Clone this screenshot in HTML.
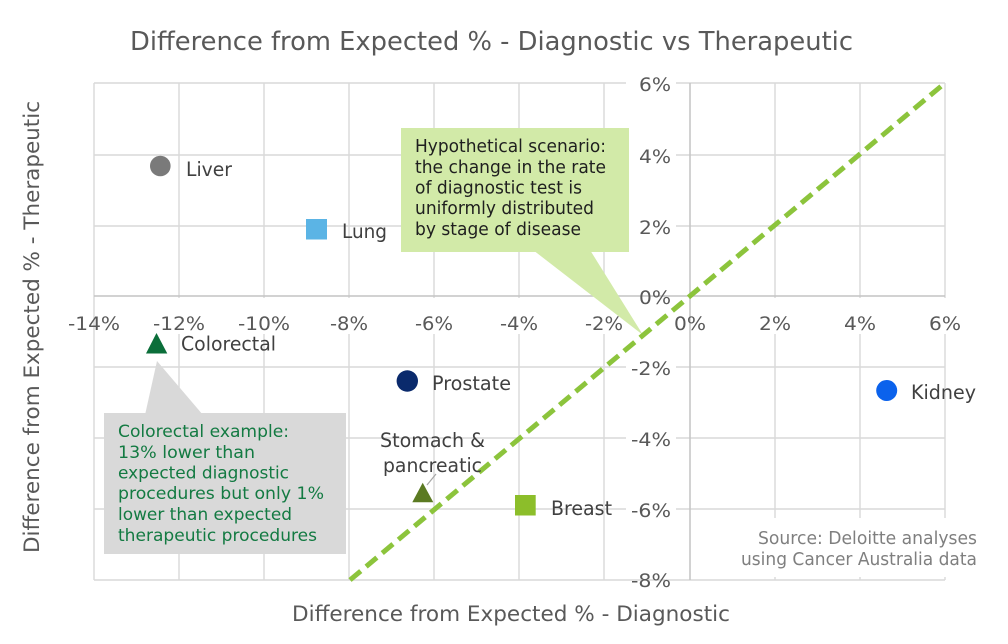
<!DOCTYPE html>
<html><head><meta charset="utf-8"><style>
html,body{margin:0;padding:0;background:#fff;}
svg{display:block;}
text{font-family:"DejaVu Sans","Liberation Sans",sans-serif;}
</style></head><body>
<svg width="1008" height="644" viewBox="0 0 1008 644" xmlns="http://www.w3.org/2000/svg">
<rect x="0" y="0" width="1008" height="644" fill="#fff"/>
<!-- title -->
<text x="130" y="50" font-size="26" fill="#595959" textLength="723" lengthAdjust="spacingAndGlyphs">Difference from Expected % - Diagnostic vs Therapeutic</text>
<!-- gridlines -->
<g stroke="#d9d9d9" stroke-width="1.4" fill="none">
<line x1="94" y1="83" x2="945" y2="83"/>
<line x1="94" y1="155" x2="945" y2="155"/>
<line x1="94" y1="226" x2="945" y2="226"/>
<line x1="94" y1="367" x2="945" y2="367"/>
<line x1="94" y1="438" x2="945" y2="438"/>
<line x1="94" y1="509" x2="945" y2="509"/>
<line x1="94" y1="580" x2="945" y2="580"/>
<line x1="179" y1="83" x2="179" y2="580"/>
<line x1="264" y1="83" x2="264" y2="580"/>
<line x1="349" y1="83" x2="349" y2="580"/>
<line x1="434" y1="83" x2="434" y2="580"/>
<line x1="519" y1="83" x2="519" y2="580"/>
<line x1="604" y1="83" x2="604" y2="580"/>
<line x1="775" y1="83" x2="775" y2="580"/>
<line x1="860" y1="83" x2="860" y2="580"/>
<line x1="945" y1="83" x2="945" y2="580"/>
</g>
<!-- white bands behind labels -->
<rect x="96" y="298" width="856" height="36" fill="#fff"/>
<g fill="#fff">
<rect x="626" y="74" width="50" height="18"/>
<rect x="626" y="146" width="50" height="18"/>
<rect x="626" y="217" width="50" height="18"/>
<rect x="626" y="358" width="50" height="18"/>
<rect x="626" y="429" width="50" height="18"/>
<rect x="626" y="500" width="50" height="18"/>
<rect x="626" y="571" width="50" height="8"/>
</g>
<rect x="700" y="518" width="285" height="59" fill="#fff"/>
<!-- left border & zero axes -->
<line x1="94" y1="83" x2="94" y2="580" stroke="#d9d9d9" stroke-width="1.4"/>
<line x1="94" y1="296" x2="945" y2="296" stroke="#c4c4c4" stroke-width="1.5"/>
<line x1="690" y1="83" x2="690" y2="580" stroke="#c4c4c4" stroke-width="1.5"/>
<!-- x tick labels -->
<g font-size="19" fill="#595959" text-anchor="middle">
<text x="94" y="330" textLength="52" lengthAdjust="spacingAndGlyphs">-14%</text>
<text x="179" y="330" textLength="52" lengthAdjust="spacingAndGlyphs">-12%</text>
<text x="264" y="330" textLength="52" lengthAdjust="spacingAndGlyphs">-10%</text>
<text x="349" y="330" textLength="38" lengthAdjust="spacingAndGlyphs">-8%</text>
<text x="434" y="330" textLength="38" lengthAdjust="spacingAndGlyphs">-6%</text>
<text x="519" y="330" textLength="38" lengthAdjust="spacingAndGlyphs">-4%</text>
<text x="604" y="330" textLength="38" lengthAdjust="spacingAndGlyphs">-2%</text>
<text x="690" y="330" textLength="32" lengthAdjust="spacingAndGlyphs">0%</text>
<text x="775" y="330" textLength="32" lengthAdjust="spacingAndGlyphs">2%</text>
<text x="860" y="330" textLength="32" lengthAdjust="spacingAndGlyphs">4%</text>
<text x="945" y="330" textLength="32" lengthAdjust="spacingAndGlyphs">6%</text>
</g>
<!-- y tick labels -->
<g font-size="19" fill="#595959" text-anchor="end">
<text x="671" y="91" textLength="32" lengthAdjust="spacingAndGlyphs">6%</text>
<text x="671" y="163" textLength="32" lengthAdjust="spacingAndGlyphs">4%</text>
<text x="671" y="234" textLength="32" lengthAdjust="spacingAndGlyphs">2%</text>
<text x="671" y="304" textLength="32" lengthAdjust="spacingAndGlyphs">0%</text>
<text x="671" y="375" textLength="40" lengthAdjust="spacingAndGlyphs">-2%</text>
<text x="671" y="446" textLength="40" lengthAdjust="spacingAndGlyphs">-4%</text>
<text x="671" y="517" textLength="40" lengthAdjust="spacingAndGlyphs">-6%</text>
<text x="671" y="587" textLength="40" lengthAdjust="spacingAndGlyphs">-8%</text>
</g>
<!-- axis titles -->
<text x="292" y="621" font-size="21" fill="#595959" textLength="438" lengthAdjust="spacingAndGlyphs">Difference from Expected % - Diagnostic</text>
<text transform="translate(39,327) rotate(-90)" x="0" y="0" font-size="21" fill="#595959" text-anchor="middle" textLength="452" lengthAdjust="spacingAndGlyphs">Difference from Expected % - Therapeutic</text>
<!-- green callout -->
<polygon points="533,250 590,250 643,335" fill="#d2eaa8"/>
<rect x="401" y="128" width="228" height="124" fill="#d2eaa8"/>
<g font-size="17.5" fill="#1f1f1f">
<text x="415" y="152" textLength="191" lengthAdjust="spacingAndGlyphs">Hypothetical scenario:</text>
<text x="415" y="173" textLength="191" lengthAdjust="spacingAndGlyphs">the change in the rate</text>
<text x="415" y="193.5" textLength="167" lengthAdjust="spacingAndGlyphs">of diagnostic test is</text>
<text x="415" y="214" textLength="179" lengthAdjust="spacingAndGlyphs">uniformly distributed</text>
<text x="415" y="235" textLength="166" lengthAdjust="spacingAndGlyphs">by stage of disease</text>
</g>
<!-- gray callout -->
<polygon points="145,415 203,415 157,361" fill="#d9d9d9"/>
<rect x="104" y="413" width="242" height="141" fill="#d9d9d9"/>
<g font-size="17" fill="#137a42">
<text x="118" y="437" textLength="171" lengthAdjust="spacingAndGlyphs">Colorectal example:</text>
<text x="118" y="458" textLength="137" lengthAdjust="spacingAndGlyphs">13% lower than</text>
<text x="118" y="478.5" textLength="171" lengthAdjust="spacingAndGlyphs">expected diagnostic</text>
<text x="118" y="499" textLength="206" lengthAdjust="spacingAndGlyphs">procedures but only 1%</text>
<text x="118" y="520" textLength="174" lengthAdjust="spacingAndGlyphs">lower than expected</text>
<text x="118" y="541" textLength="199" lengthAdjust="spacingAndGlyphs">therapeutic procedures</text>
</g>
<!-- dashed diagonal -->
<line x1="350" y1="580" x2="945" y2="83" stroke="#8cc43c" stroke-width="5" stroke-dasharray="14 7"/>
<!-- markers -->
<circle cx="160.3" cy="166" r="10.3" fill="#7a7a7a"/>
<rect x="306" y="219" width="21" height="20.5" fill="#5bb4e5"/>
<polygon points="156.5,333 146,353.5 167.3,353.5" fill="#0b6e3a"/>
<circle cx="407.3" cy="381" r="10.7" fill="#0a2a6c"/>
<line x1="427" y1="485" x2="436" y2="474" stroke="#a6a6a6" stroke-width="1.2"/>
<polygon points="422.7,482.7 412.3,502.3 433.3,502.3" fill="#5b7a22"/>
<rect x="515" y="495" width="20.7" height="20.5" fill="#8cbe2a"/>
<circle cx="886.7" cy="390.5" r="10.5" fill="#0b62ec"/>
<!-- data labels -->
<g font-size="19.5" fill="#404040">
<text x="186" y="176" textLength="46" lengthAdjust="spacingAndGlyphs">Liver</text>
<text x="342" y="238" textLength="45" lengthAdjust="spacingAndGlyphs">Lung</text>
<text x="181" y="350.5" textLength="95" lengthAdjust="spacingAndGlyphs">Colorectal</text>
<text x="432" y="390" textLength="79" lengthAdjust="spacingAndGlyphs">Prostate</text>
<text x="380" y="447" textLength="105" lengthAdjust="spacingAndGlyphs">Stomach &amp;</text>
<text x="383" y="472" textLength="99" lengthAdjust="spacingAndGlyphs">pancreatic</text>
<text x="551" y="515" textLength="61" lengthAdjust="spacingAndGlyphs">Breast</text>
<text x="911" y="399" textLength="65" lengthAdjust="spacingAndGlyphs">Kidney</text>
</g>
<!-- source -->
<g font-size="17.5" fill="#7f7f7f" text-anchor="end">
<text x="977" y="544" textLength="219" lengthAdjust="spacingAndGlyphs">Source: Deloitte analyses</text>
<text x="977" y="565" textLength="236" lengthAdjust="spacingAndGlyphs">using Cancer Australia data</text>
</g>
</svg>
</body></html>
